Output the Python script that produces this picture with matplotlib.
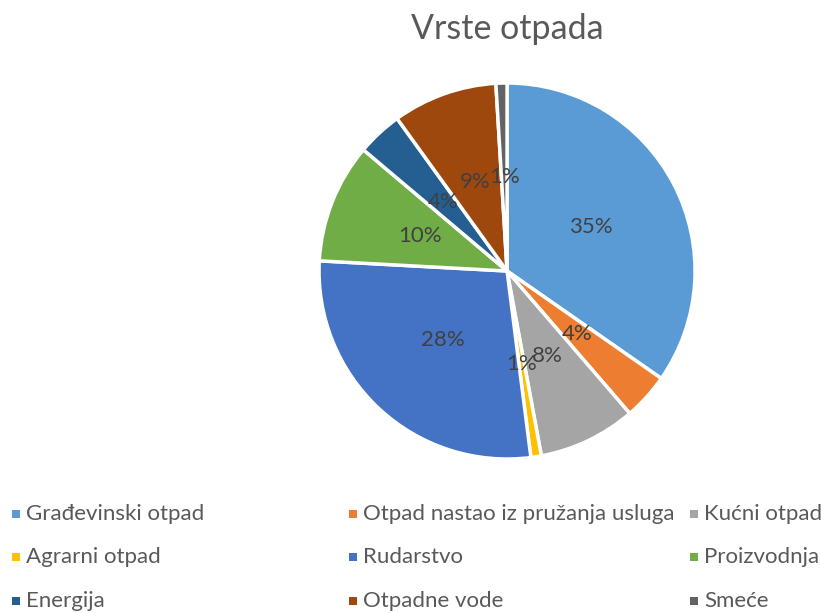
import numpy as np
import matplotlib.pyplot as plt
from matplotlib.patches import Rectangle

# Vrste otpada - udjeli (%)
kategorije = ["Građevinski otpad", "Otpad nastao iz pružanja usluga", "Kućni otpad",
              "Agrarni otpad", "Rudarstvo", "Proizvodnja",
              "Energija", "Otpadne vode", "Smeće"]
udjeli = [34.7, 4.0, 8.4, 0.9, 27.9, 10.3, 3.9, 9.0, 0.95]
boje = ["#5B9BD5", "#ED7D31", "#A5A5A5", "#FFC000", "#4472C4", "#70AD47",
        "#255E91", "#9E480E", "#636363"]

plt.rcParams['font.family'] = ['Lato', 'DejaVu Sans']

fig = plt.figure(figsize=(8.21, 6.13), dpi=100)
ax = fig.add_axes([0.3886, 0.2512, 0.458, 0.6134])

wedges, texts, autotexts = ax.pie(
    udjeli, colors=boje, startangle=90, counterclock=False,
    autopct=lambda v: "%d%%" % round(v), pctdistance=0.5,
    wedgeprops=dict(edgecolor="white", linewidth=2.5),
    textprops=dict(color="#404040", fontsize=16))
ax.set_xlim(-1.0, 1.0)
ax.set_ylim(-1.0, 1.0)
ax.set_aspect('equal')

fig.text(0.6175, 0.953, "Vrste otpada", ha="center", va="center",
         fontsize=24.5, color="#595959")

# legenda ispod grafa, 3 kolone
kol_x = [12, 349, 690]
red_y = [514, 557, 601]
W, H = 821, 613
for i, (naziv, c) in enumerate(zip(kategorije, boje)):
    x = kol_x[i % 3]
    y = red_y[i // 3]
    fig.patches.append(Rectangle(((x) / W, 1 - (y + 4) / H), 8 / W, 8 / H,
                                 transform=fig.transFigure, facecolor=c,
                                 edgecolor="none"))
    fig.text((x + 14) / W, 1 - y / H, naziv, ha="left", va="center",
             fontsize=16, color="#595959")

fig.savefig("out.png", dpi=100)
